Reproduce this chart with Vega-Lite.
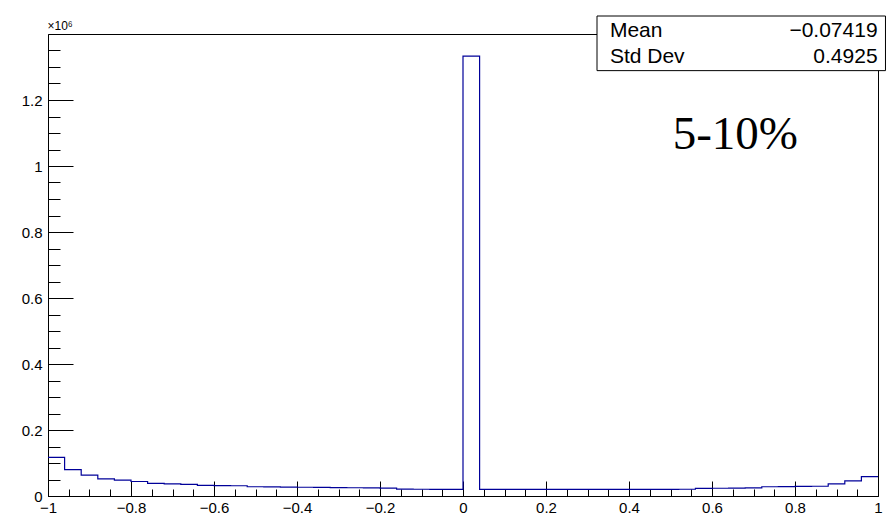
{
  "$schema": "https://vega.github.io/schema/vega-lite/v6.json",
  "width": 830,
  "height": 462,
  "autosize": {"type": "none"},
  "padding": {"left": 48, "top": 34, "right": 8, "bottom": 18},
  "background": "#ffffff",
  "config": {
    "view": {"stroke": "#000000", "strokeWidth": 1},
    "font": "Liberation Sans"
  },
  "datasets": {
    "hist": [
      {"x": -1.00, "count": 117000},
      {"x": -0.96, "count": 80000},
      {"x": -0.92, "count": 63000},
      {"x": -0.88, "count": 52000},
      {"x": -0.84, "count": 48000},
      {"x": -0.80, "count": 44000},
      {"x": -0.76, "count": 38000},
      {"x": -0.72, "count": 37000},
      {"x": -0.68, "count": 35000},
      {"x": -0.64, "count": 32000},
      {"x": -0.60, "count": 31500},
      {"x": -0.56, "count": 31000},
      {"x": -0.52, "count": 28000},
      {"x": -0.48, "count": 27500},
      {"x": -0.44, "count": 27000},
      {"x": -0.40, "count": 26500},
      {"x": -0.36, "count": 26000},
      {"x": -0.32, "count": 25500},
      {"x": -0.28, "count": 25000},
      {"x": -0.24, "count": 24500},
      {"x": -0.20, "count": 24000},
      {"x": -0.16, "count": 21000},
      {"x": -0.12, "count": 20500},
      {"x": -0.08, "count": 20000},
      {"x": -0.04, "count": 20000},
      {"x": 0.00, "count": 1333000},
      {"x": 0.04, "count": 20000},
      {"x": 0.08, "count": 20000},
      {"x": 0.12, "count": 20000},
      {"x": 0.16, "count": 20000},
      {"x": 0.20, "count": 20000},
      {"x": 0.24, "count": 20000},
      {"x": 0.28, "count": 20000},
      {"x": 0.32, "count": 20000},
      {"x": 0.36, "count": 20000},
      {"x": 0.40, "count": 20000},
      {"x": 0.44, "count": 20000},
      {"x": 0.48, "count": 20000},
      {"x": 0.52, "count": 20500},
      {"x": 0.56, "count": 23000},
      {"x": 0.60, "count": 23500},
      {"x": 0.64, "count": 24000},
      {"x": 0.68, "count": 24500},
      {"x": 0.72, "count": 28000},
      {"x": 0.76, "count": 28500},
      {"x": 0.80, "count": 29000},
      {"x": 0.84, "count": 29500},
      {"x": 0.88, "count": 37000},
      {"x": 0.92, "count": 46000},
      {"x": 0.96, "count": 59000},
      {"x": 1.00, "count": 59000}
    ],
    "box": [{"x1": 0.3229, "x2": 1.018, "y1": 1289000, "y2": 1454500}],
    "names": [
      {"label": "Mean", "x": 0.354, "y": 1392000},
      {"label": "Std Dev", "x": 0.354, "y": 1311000}
    ],
    "vals": [
      {"label": "−0.07419", "x": 0.999, "y": 1392000},
      {"label": "0.4925", "x": 0.999, "y": 1311000}
    ],
    "tag": [{"label": "5-10%", "x": 0.5053, "y": 1050600}]
  },
  "resolve": {"axis": {"x": "independent", "y": "independent"}},
  "layer": [
    {
      "data": {"name": "hist"},
      "mark": {"type": "line", "opacity": 0},
      "encoding": {
        "x": {
          "field": "x", "type": "quantitative",
          "scale": {"domain": [-1, 1], "nice": false, "zero": false},
          "axis": {
            "orient": "bottom",
            "values": [-0.95, -0.9, -0.85, -0.75, -0.7, -0.65, -0.55, -0.5, -0.45, -0.35, -0.3, -0.25, -0.15, -0.1, -0.05, 0.05, 0.1, 0.15, 0.25, 0.3, 0.35, 0.45, 0.5, 0.55, 0.65, 0.7, 0.75, 0.85, 0.9, 0.95],
            "tickSize": -7, "labels": false, "domain": false, "grid": false,
            "title": null, "tickColor": "#000000", "tickWidth": 1
          }
        },
        "y": {
          "field": "count", "type": "quantitative",
          "scale": {"domain": [0, 1400000], "nice": false},
          "axis": {
            "orient": "left",
            "values": [50000, 100000, 150000, 250000, 300000, 350000, 450000, 500000, 550000, 650000, 700000, 750000, 850000, 900000, 950000, 1050000, 1100000, 1150000, 1250000, 1300000, 1350000],
            "tickSize": -12, "labels": false, "domain": false, "grid": false,
            "title": null, "tickColor": "#000000", "tickWidth": 1
          }
        }
      }
    },
    {
      "data": {"name": "hist"},
      "mark": {"type": "line", "interpolate": "step-after", "color": "#000099", "strokeWidth": 1.2},
      "encoding": {
        "x": {
          "field": "x", "type": "quantitative",
          "scale": {"domain": [-1, 1], "nice": false, "zero": false},
          "axis": {
            "orient": "bottom",
            "values": [-1, -0.8, -0.6, -0.4, -0.2, 0, 0.2, 0.4, 0.6, 0.8, 1],
            "tickSize": -15, "labelExpr": "replace(format(datum.value, '~g'), '-', '−')",
            "labelFont": "Liberation Sans", "labelFontSize": 15, "labelColor": "#000000",
            "labelPadding": 19, "labelFlush": false, "labelOverlap": false,
            "domainColor": "#000000", "tickColor": "#000000", "tickWidth": 1,
            "grid": false, "title": null
          }
        },
        "y": {
          "field": "count", "type": "quantitative",
          "scale": {"domain": [0, 1400000], "nice": false},
          "axis": {
            "orient": "left",
            "values": [0, 200000, 400000, 600000, 800000, 1000000, 1200000],
            "tickSize": -25, "labelExpr": "format(datum.value / 1000000, '~g')",
            "labelFont": "Liberation Sans", "labelFontSize": 15, "labelColor": "#000000",
            "labelPadding": 31, "labelFlush": false, "labelOverlap": false,
            "domainColor": "#000000", "tickColor": "#000000", "tickWidth": 1,
            "grid": false,
            "title": "×10⁶", "titleAngle": 0, "titleAlign": "left", "titleBaseline": "alphabetic",
            "titleX": -1, "titleY": -5, "titleFont": "Liberation Sans", "titleFontSize": 12,
            "titleFontWeight": "normal", "titleColor": "#000000"
          }
        }
      }
    },
    {
      "data": {"name": "box"},
      "mark": {"type": "rect", "fill": "#ffffff", "stroke": "#000000", "strokeWidth": 1},
      "encoding": {
        "x": {"field": "x1", "type": "quantitative", "axis": null},
        "x2": {"field": "x2"},
        "y": {"field": "y1", "type": "quantitative", "axis": null},
        "y2": {"field": "y2"}
      }
    },
    {
      "data": {"name": "names"},
      "mark": {"type": "text", "align": "left", "baseline": "alphabetic", "font": "Liberation Sans", "fontSize": 21, "color": "#000000"},
      "encoding": {
        "x": {"field": "x", "type": "quantitative", "axis": null},
        "y": {"field": "y", "type": "quantitative", "axis": null},
        "text": {"field": "label"}
      }
    },
    {
      "data": {"name": "vals"},
      "mark": {"type": "text", "align": "right", "baseline": "alphabetic", "font": "Liberation Sans", "fontSize": 21, "color": "#000000"},
      "encoding": {
        "x": {"field": "x", "type": "quantitative", "axis": null},
        "y": {"field": "y", "type": "quantitative", "axis": null},
        "text": {"field": "label"}
      }
    },
    {
      "data": {"name": "tag"},
      "mark": {"type": "text", "align": "left", "baseline": "alphabetic", "font": "Liberation Serif", "fontSize": 47, "color": "#000000"},
      "encoding": {
        "x": {"field": "x", "type": "quantitative", "axis": null},
        "y": {"field": "y", "type": "quantitative", "axis": null},
        "text": {"field": "label"}
      }
    }
  ]
}
